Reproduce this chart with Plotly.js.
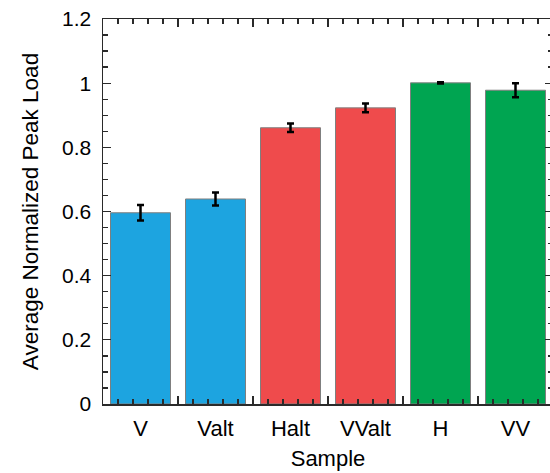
<!DOCTYPE html>
<html>
<head>
<meta charset="utf-8">
<script src="https://cdn.plot.ly/plotly-3.0.1.min.js"></script>
<style>
html,body{margin:0;padding:0;overflow:hidden;background:#fff;}
#chart{width:556px;height:473px;}
</style>
</head>
<body>
<div id="chart"></div>
<script>
const categories = ["V", "Valt", "Halt", "VValt", "H", "VV"];
const values = [0.596, 0.639, 0.861, 0.923, 1.001, 0.978];
const errors = [0.024, 0.020, 0.013, 0.014, 0.002, 0.022];
const barColors = ["#1da4e0", "#1da4e0", "#ef4b4c", "#ef4b4c", "#00a551", "#00a551"];
const positions = categories.map((c, i) => i);
const boundaries = categories.map((c, i) => i - 0.5).concat([categories.length - 0.5]);

const font = "Liberation Sans, Arial, sans-serif";
const axisColor = "#2a2a2a";

const data = [
  {
    type: "bar",
    x: positions,
    y: values,
    width: 0.8,
    marker: {color: barColors, line: {color: "#7f7f7f", width: 1}},
    error_y: {type: "data", array: errors, visible: true, color: "#000", thickness: 2.5, width: 3.5},
    hoverinfo: "x+y",
    showlegend: false
  },
  {
    type: "scatter",
    x: [boundaries[0]],
    y: [0],
    xaxis: "x2",
    mode: "none",
    hoverinfo: "skip",
    showlegend: false
  }
];

const layout = {
  width: 556,
  height: 473,
  margin: {l: 103, r: 3, t: 19, b: 69},
  paper_bgcolor: "#fff",
  plot_bgcolor: "#fff",
  font: {family: font, size: 21, color: "#000"},
  bargap: 0.2,
  xaxis: {
    type: "linear",
    range: [-0.5, 5.5],
    tickmode: "array",
    tickvals: positions,
    ticktext: categories,
    ticks: "",
    tickfont: {size: 22},
    ticklabelstandoff: 4,
    showgrid: false,
    zeroline: false,
    showline: true,
    linecolor: axisColor,
    linewidth: 1.5,
    mirror: true,
    title: {text: "Sample", font: {size: 22}, standoff: 10},
    fixedrange: true
  },
  xaxis2: {
    type: "linear",
    overlaying: "x",
    matches: "x",
    range: [-0.5, 5.5],
    side: "bottom",
    anchor: "y",
    tickmode: "array",
    tickvals: boundaries,
    ticks: "inside",
    ticklen: 8,
    tickwidth: 1.3,
    tickcolor: axisColor,
    showticklabels: false,
    showgrid: false,
    zeroline: false,
    showline: true,
    linecolor: axisColor,
    linewidth: 1.5,
    mirror: "ticks",
    minor: {tickmode: "linear", tick0: -0.5, dtick: 0.2, ticks: "inside", ticklen: 5, tickwidth: 1.3, tickcolor: axisColor, showgrid: false},
    fixedrange: true
  },
  yaxis: {
    range: [0, 1.2],
    tickmode: "linear",
    tick0: 0,
    dtick: 0.2,
    ticks: "inside",
    ticklen: 8,
    tickwidth: 1.3,
    tickcolor: axisColor,
    ticklabelstandoff: 6,
    tickfont: {size: 21},
    showgrid: false,
    zeroline: false,
    showline: true,
    linecolor: axisColor,
    linewidth: 1.5,
    mirror: "ticks",
    minor: {tickmode: "linear", tick0: 0, dtick: 0.05, ticks: "inside", ticklen: 5, tickwidth: 1.3, tickcolor: axisColor, showgrid: false},
    title: {text: "Average Normalized Peak Load", font: {size: 22.5}, standoff: 17},
    fixedrange: true
  }
};

Plotly.newPlot("chart", data, layout, {displayModeBar: false, staticPlot: true});
</script>
</body>
</html>
